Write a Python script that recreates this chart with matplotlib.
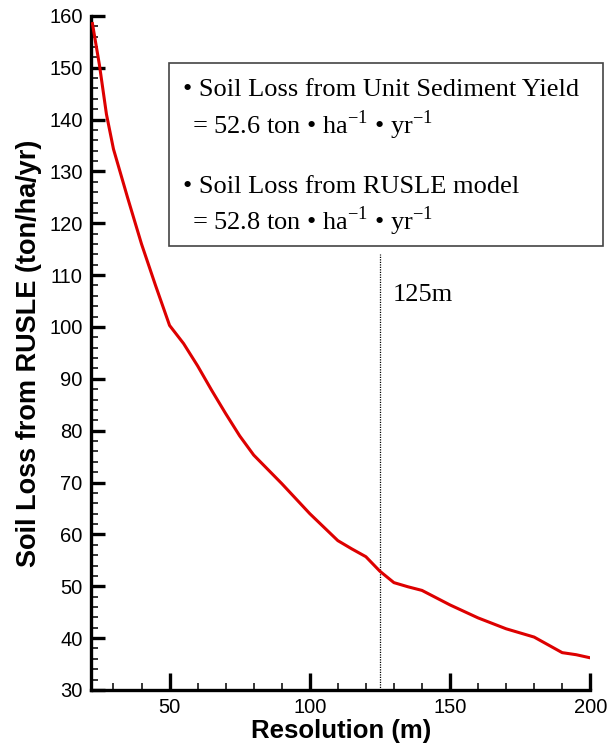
import matplotlib
matplotlib.use('Agg')
import matplotlib.pyplot as plt
from matplotlib.patches import Rectangle
from matplotlib.ticker import MultipleLocator

plt.rcParams['font.family'] = 'Liberation Sans'
plt.rcParams['mathtext.fontset'] = 'custom'
plt.rcParams['mathtext.rm'] = 'Liberation Serif'

# values
resolution = [22.5, 25, 27.5, 30, 35, 40, 45, 50, 55, 60, 65, 70, 75, 80, 90,
              100, 110, 115, 120, 125, 130, 135, 140, 150, 160, 170, 180, 185,
              190, 195, 200]
soil_loss = [158.5, 150.5, 141.0, 134.3, 125.0, 116.0, 108.0, 100.3, 96.8, 92.5,
             87.8, 83.3, 79.0, 75.3, 69.8, 64.0, 58.8, 57.2, 55.7, 52.9, 50.7,
             49.9, 49.2, 46.4, 43.9, 41.8, 40.2, 38.7, 37.2, 36.8, 36.2]
x_ticks = [50, 100, 150, 200]
y_ticks = list(range(30, 161, 10))
marker_res = 125
marker_top = 114

box_lines = [
    "\u2022 Soil Loss from Unit Sediment Yield",
    "= 52.6 ton \u2022 ha$^{\\mathregular{-1}}$ \u2022 yr$^{\\mathregular{-1}}$",
    "\u2022 Soil Loss from RUSLE model",
    "= 52.8 ton \u2022 ha$^{\\mathregular{-1}}$ \u2022 yr$^{\\mathregular{-1}}$",
]

fig = plt.figure(figsize=(6.11, 7.53), dpi=100)
ax = fig.add_axes([0.149, 0.0837, 0.817, 0.8953])

ax.plot(resolution, soil_loss, color='#dd0000', linewidth=2.2, zorder=3)
ax.plot([marker_res, marker_res], [30, marker_top], color='black',
        linestyle=(0, (1, 1)), linewidth=0.9)
ax.text(129.6, 106.2, "125m", family='Liberation Serif', fontsize=19,
        va='center', ha='left')

ax.set_xlim(22, 200)
ax.set_ylim(30, 160)
ax.set_xticks(x_ticks)
ax.set_yticks(y_ticks)
ax.xaxis.set_minor_locator(MultipleLocator(10))
ax.yaxis.set_minor_locator(MultipleLocator(2))

for s in ['top', 'right']:
    ax.spines[s].set_visible(False)
for s in ['left', 'bottom']:
    ax.spines[s].set_linewidth(2.4)

ax.tick_params(which='major', direction='in', length=10, width=2.4,
               labelsize=14.5, pad=6)
ax.tick_params(which='minor', direction='in', length=5, width=1.1)
ax.tick_params(axis='x', which='major', length=12)

ax.set_xlabel("Resolution (m)", fontsize=18.5, fontweight='bold', labelpad=1)
ax.set_ylabel("Soil Loss from RUSLE (ton/ha/yr)", fontsize=19.5,
              fontweight='bold', labelpad=5)

# text box
fig.patches.append(Rectangle((0.2766, 0.6737), 0.7104, 0.243,
                             transform=fig.transFigure, fill=False,
                             edgecolor='#444444', linewidth=1.2))
fig.text(0.2995, 0.8805, box_lines[0], family='Liberation Serif',
         fontsize=19, va='center')
fig.text(0.3137, 0.834, box_lines[1], family='Liberation Serif',
         fontsize=19, va='center')
fig.text(0.2995, 0.752, box_lines[2], family='Liberation Serif',
         fontsize=19, va='center')
fig.text(0.3137, 0.7056, box_lines[3], family='Liberation Serif',
         fontsize=19, va='center')

fig.savefig('out.png', dpi=100)
